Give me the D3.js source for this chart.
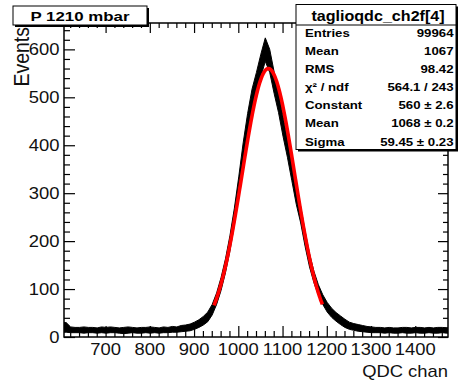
<!DOCTYPE html>
<html>
<head>
<meta charset="utf-8">
<script src="https://cdn.jsdelivr.net/npm/d3@7"></script>
<style>
  html, body { margin: 0; padding: 0; background: #fff; }
  svg { display: block; font-family: "Liberation Sans", Arial, Helvetica, sans-serif; }
</style>
</head>
<body>
<svg id="chart" width="459" height="381"></svg>
<script>
// QDC spectrum, 10-channel bins starting at channel 606.
// Each bin keeps the lower and upper edge of the fluctuating counts band.
const binStart = 606;
const binWidth = 10;
const countsLow = [
  10, 9, 9, 9, 8, 9, 9, 8, 9, 8,
  9, 9, 8, 7, 8, 9, 8, 8, 9, 8,
  9, 8, 9, 9, 10, 10, 11, 12, 13, 16,
  20, 25, 32, 46, 68, 97, 134, 179, 233, 297,
  365, 424, 473, 508, 543, 575, 552, 508, 468, 419,
  375, 326, 277, 238, 189, 146, 113, 87, 68, 52,
  41, 33, 26, 20, 16, 14, 12, 11, 10, 9,
  9, 9, 8, 9, 8, 8, 9, 8, 8, 9,
  8, 8, 9, 8, 8, 9, 8
];
const countsHigh = [
  30, 21, 20, 20, 21, 20, 20, 19, 21, 20,
  21, 20, 19, 20, 21, 20, 19, 20, 20, 21,
  20, 19, 21, 20, 22, 21, 24, 25, 27, 31,
  36, 43, 52, 68, 92, 124, 163, 211, 268, 334,
  405, 466, 517, 552, 590, 624, 600, 553, 512, 461,
  415, 364, 313, 272, 221, 174, 137, 109, 88, 72,
  60, 51, 44, 37, 31, 28, 26, 24, 22, 21,
  20, 20, 19, 20, 19, 19, 20, 20, 19, 20,
  20, 19, 20, 19, 20, 20, 19
];

// Gaussian fit parameters and fit range
const fitConstant = 560;
const fitMean = 1068;
const fitSigma = 59.45;
const fitRange = [945, 1190];

// Axis ticks
const xTicks = [700, 800, 900, 1000, 1100, 1200, 1300, 1400];
const yTicks = [0, 100, 200, 300, 400, 500, 600];
const xDomain = [606, 1474];
const yDomain = [0, 655];

// Texts
const titleText = "P 1210 mbar";
const histName = "taglioqdc_ch2f[4]";
const statLabels = ["Entries", "Mean", "RMS", "\u03C7\u00B2 / ndf", "Constant", "Mean", "Sigma"];
const statValues = ["99964", "1067", "98.42", "564.1 / 243", "560 \u00B1 2.6", "1068 \u00B1 0.2", "59.45 \u00B1 0.23"];
const xTitle = "QDC chan";
const yTitle = "Events";

// ---- layout ----
const frame = { left: 64, right: 448, top: 23, bottom: 337 };
const stretch = 1.15;

const svg = d3.select("#chart");

const x = d3.scaleLinear().domain(xDomain).range([frame.left, frame.right]);
const y = d3.scaleLinear().domain(yDomain).range([frame.bottom, frame.top]);

svg.append("defs").append("clipPath").attr("id", "plotClip")
  .append("rect")
  .attr("x", frame.left).attr("y", frame.top)
  .attr("width", frame.right - frame.left).attr("height", frame.bottom - frame.top);

// histogram band: spread of counts drawn through the bin centres
const band = countsLow.map((lo, i) => ({
  v: binStart + (i + 0.5) * binWidth,
  lo: lo,
  hi: countsHigh[i]
}));
const first = band[0], last = band[band.length - 1];
const bandPts = [{ v: binStart, lo: first.lo, hi: first.hi }, ...band,
  { v: binStart + band.length * binWidth, lo: last.lo, hi: last.hi }];

svg.append("g").attr("clip-path", "url(#plotClip)")
  .append("path")
  .datum(bandPts)
  .attr("fill", "#000")
  .attr("stroke", "#000")
  .attr("stroke-width", 1)
  .attr("d", d3.area().x(d => x(d.v)).y0(d => y(d.lo)).y1(d => y(d.hi)));

// gaussian fit
const gauss = v => fitConstant * Math.exp(-0.5 * Math.pow((v - fitMean) / fitSigma, 2));
const fitPts = d3.range(fitRange[0], fitRange[1] + 0.5, 1).map(v => [v, gauss(v)]);
svg.append("path")
  .datum(fitPts)
  .attr("fill", "none")
  .attr("stroke", "#ff0000")
  .attr("stroke-width", 3.6)
  .attr("stroke-linejoin", "round")
  .attr("d", d3.line().x(d => x(d[0])).y(d => y(d[1])));

// axes: ticks on all four sides, pointing inwards
const xMinor = d3.range(620, 1470, 20).filter(v => v % 100 !== 0);
const yMinor = d3.range(20, 655, 20).filter(v => v % 100 !== 0);

function tickAxis(axisFn, scale, values, size, transform) {
  const g = svg.append("g")
    .attr("transform", transform)
    .call(axisFn(scale).tickValues(values).tickSize(-size).tickSizeOuter(0).tickFormat(""));
  g.select(".domain").remove();
  g.selectAll(".tick line").attr("stroke", "#000").attr("stroke-width", 1.2);
}
tickAxis(d3.axisBottom, x, xTicks, 11, `translate(0,${frame.bottom})`);
tickAxis(d3.axisBottom, x, xMinor, 6, `translate(0,${frame.bottom})`);
tickAxis(d3.axisTop, x, xTicks, 10, `translate(0,${frame.top})`);
tickAxis(d3.axisTop, x, xMinor, 5, `translate(0,${frame.top})`);
tickAxis(d3.axisLeft, y, yTicks, 11, `translate(${frame.left},0)`);
tickAxis(d3.axisLeft, y, yMinor, 6, `translate(${frame.left},0)`);
tickAxis(d3.axisRight, y, yTicks, 10, `translate(${frame.right},0)`);
tickAxis(d3.axisRight, y, yMinor, 5, `translate(${frame.right},0)`);

svg.append("rect")
  .attr("x", frame.left).attr("y", frame.top)
  .attr("width", frame.right - frame.left).attr("height", frame.bottom - frame.top)
  .attr("fill", "none").attr("stroke", "#000").attr("stroke-width", 1.5);

// text helper: slightly wide lettering
function label(parent, tx, ty, str, opts) {
  const o = Object.assign({ size: 16, weight: "normal", anchor: "start", rotate: 0, fill: "#000", length: null }, opts || {});
  const t = parent.append("text")
    .attr("transform", `translate(${tx},${ty}) scale(${o.length ? 1 : stretch},1)` + (o.rotate ? ` rotate(${o.rotate})` : ""))
    .attr("text-anchor", o.anchor)
    .attr("font-size", o.size)
    .attr("font-weight", o.weight)
    .attr("fill", o.fill)
    .text(str);
  if (o.length) t.attr("textLength", o.length).attr("lengthAdjust", "spacingAndGlyphs");
  return t;
}

// tick labels
xTicks.forEach(v => label(svg, x(v), 355, String(v), { size: 16, anchor: "middle", fill: "#111" }));
yTicks.forEach(v => label(svg, 59.5, y(v) + 5.8, String(v), { size: 16, anchor: "end", fill: "#111" }));

// axis titles
label(svg, frame.right, 376.5, xTitle, { size: 16, anchor: "end", fill: "#111" });
label(svg, 28.5, 27, yTitle, { size: 19.5, anchor: "end", rotate: -90, fill: "#111" });

// title box
const tb = { x: 13, y: 6, w: 134, h: 19 };
svg.append("rect").attr("x", tb.x + 2).attr("y", tb.y + 2).attr("width", tb.w).attr("height", tb.h).attr("fill", "#000");
svg.append("rect").attr("x", tb.x).attr("y", tb.y).attr("width", tb.w).attr("height", tb.h)
  .attr("fill", "#fff").attr("stroke", "#000").attr("stroke-width", 1);
label(svg, tb.x + tb.w / 2, 20.8, titleText, { size: 13, weight: "bold", anchor: "middle", length: 99 });

// statistics box
const sb = { x: 296, y: 4.5, w: 160, h: 145 };
svg.append("rect").attr("x", sb.x + 2).attr("y", sb.y + 2).attr("width", sb.w).attr("height", sb.h).attr("fill", "#000");
svg.append("rect").attr("x", sb.x).attr("y", sb.y).attr("width", sb.w).attr("height", sb.h)
  .attr("fill", "#fff").attr("stroke", "#000").attr("stroke-width", 1);
svg.append("line").attr("x1", sb.x).attr("x2", sb.x + sb.w).attr("y1", 25).attr("y2", 25)
  .attr("stroke", "#000").attr("stroke-width", 1);
label(svg, 378, 20.7, histName, { size: 14, weight: "bold", anchor: "middle" });

const rowY = d3.scaleLinear().domain([0, statLabels.length - 1]).range([37.3, 145.5]);
statLabels.forEach((s, i) => label(svg, 305, rowY(i), s, { size: 11.5, weight: "bold" }));
statValues.forEach((s, i) => label(svg, 453.5, rowY(i), s, { size: 11.5, weight: "bold", anchor: "end" }));
</script>
</body>
</html>
